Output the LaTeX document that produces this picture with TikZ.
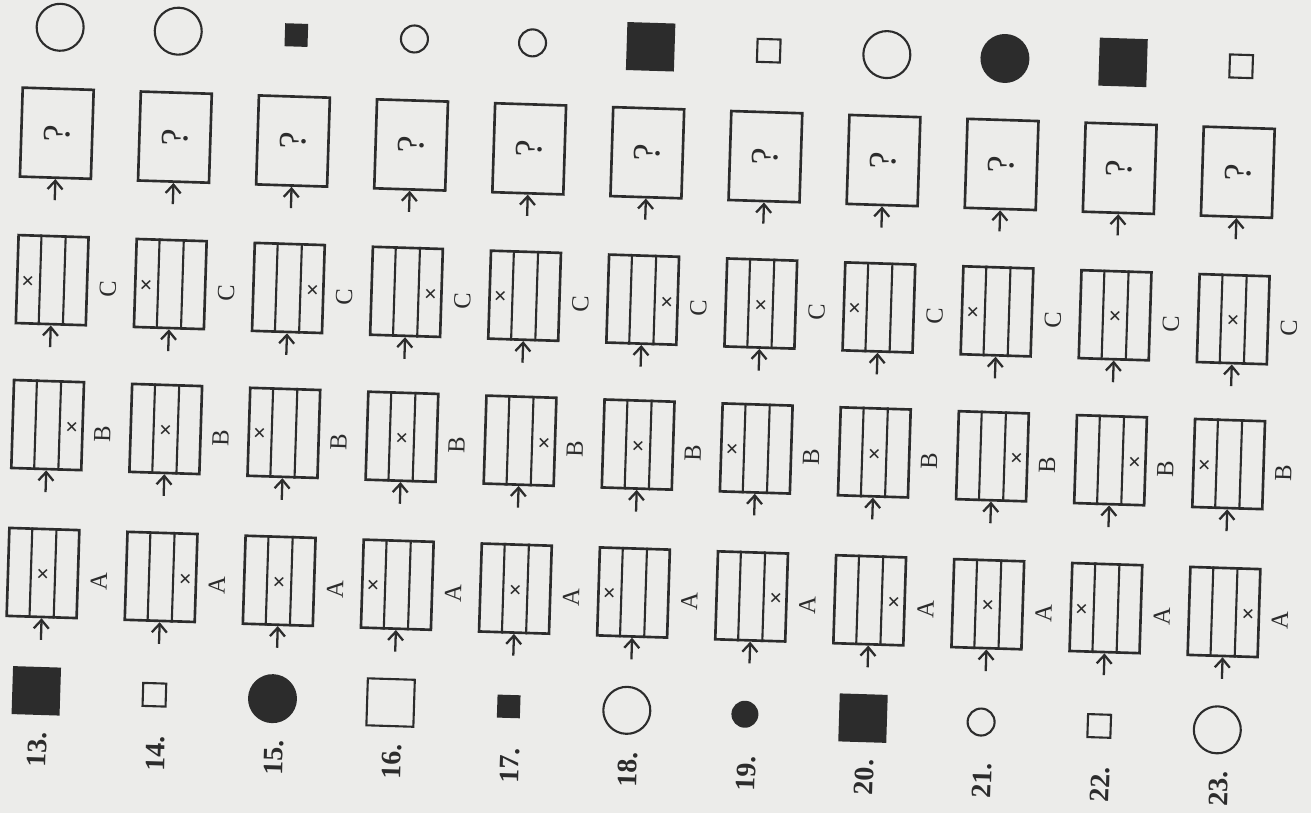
\documentclass[tikz,border=0pt]{standalone}
\usepackage{fontspec}
\setmainfont{Liberation Serif}
\usetikzlibrary{arrows.meta,calc}

\definecolor{ink}{RGB}{44,44,44}
\definecolor{paper}{RGB}{236,236,234}

\newcommand{\drawslots}[2]{%
  \draw[slotline] ($(#1.north west)!1/3!(#1.north east)$) -- ($(#1.south west)!1/3!(#1.south east)$);
  \draw[slotline] ($(#1.north west)!2/3!(#1.north east)$) -- ($(#1.south west)!2/3!(#1.south east)$);
  \node[cross] (#1x) at ($($(#1.north west)!{(2*#2-1)/6}!(#1.north east)$)!0.53!($(#1.south west)!{(2*#2-1)/6}!(#1.south east)$)$) {×};}

\begin{document}
\begin{tikzpicture}[x=0.02cm,y=-0.02cm,
  slotbox/.style={draw=ink,line width=1.5pt,minimum width=1.4cm,minimum height=1.76cm,inner sep=0pt},
  qbox/.style={draw=ink,line width=1.5pt,minimum width=1.78cm,minimum height=1.42cm,inner sep=0pt,
    rotate=90,text=ink,font=\fontsize{22}{22}\selectfont},
  slotline/.style={draw=ink,line width=1.2pt},
  cross/.style={text=ink,inner sep=0pt,font=\fontsize{13}{13}\selectfont\bfseries},
  letter/.style={rotate=90,text=ink,inner sep=0pt,font=\fontsize{14}{14}\selectfont},
  numlbl/.style={rotate=90,text=ink,inner sep=0pt,font=\fontsize{16}{16}\selectfont\bfseries},
  arr/.style={draw=ink,line width=1.3pt,-{Straight Barb[length=1.7mm,width=3mm]}},
  bsqB/.style={rectangle,fill=ink,minimum size=0.96cm,inner sep=0pt},
  bsqS/.style={rectangle,fill=ink,minimum size=0.46cm,inner sep=0pt},
  osqB/.style={rectangle,draw=ink,line width=1.2pt,minimum size=0.94cm,inner sep=0pt},
  osqS/.style={rectangle,draw=ink,line width=1.2pt,minimum size=0.46cm,inner sep=0pt},
  bcB/.style={circle,fill=ink,minimum size=0.98cm,inner sep=0pt},
  bcS/.style={circle,fill=ink,minimum size=0.54cm,inner sep=0pt},
  ocB/.style={circle,draw=ink,line width=1.2pt,minimum size=0.94cm,inner sep=0pt},
  ocS/.style={circle,draw=ink,line width=1.2pt,minimum size=0.54cm,inner sep=0pt}]
  \fill[paper] (0,0) rectangle (1311,813);
  \useasboundingbox (0,0) rectangle (1311,813);
  \foreach \n/\pa/\pb/\pc/\low/\high [count=\i from 0] in
    {13/2/3/1/bsqB/ocB, 14/3/2/1/osqS/ocB, 15/2/1/3/bcB/bsqS, 16/1/2/3/osqB/ocS,
     17/2/3/1/bsqS/ocS, 18/1/2/3/ocB/bsqB, 19/3/1/2/bcS/osqS, 20/3/2/1/bsqB/ocB,
     21/2/3/1/ocS/bcB, 22/1/3/2/osqS/bsqB, 23/3/1/2/ocB/osqS}{
  \begin{scope}[shift={(43+118.1*\i,573+3.9*\i)},rotate=-1.8,transform shape]
    \node[numlbl] (n\n) at (0,177) {\n.};
    \node[\low] (in\n) at (-3,118) {};
    \node[slotbox] (a\n) at (0,0) {};
    \node[slotbox] (b\n) at (0,-148) {};
    \node[slotbox] (c\n) at (0,-293) {};
    \node[qbox] (q\n) at (0,-440) {?};
    \node[\high] (out\n) at (0,-546) {};
    \node[letter] (la\n) at (56,7) {A};
    \node[letter] (lb\n) at (55,-141) {B};
    \node[letter] (lc\n) at (56,-286) {C};
    \drawslots{a\n}{\pa}
    \drawslots{b\n}{\pb}
    \drawslots{c\n}{\pc}
    \coordinate (ta\n) at (0,67);
    \coordinate (tb\n) at (0,-81);
    \coordinate (tc\n) at (0,-226);
    \coordinate (tq\n) at (0,-373);
    \draw[arr] (ta\n) -- (a\n.south);
    \draw[arr] (tb\n) -- (b\n.south);
    \draw[arr] (tc\n) -- (c\n.south);
    \draw[arr] (tq\n) -- (q\n.west);
  \end{scope}}
\end{tikzpicture}
\end{document}
